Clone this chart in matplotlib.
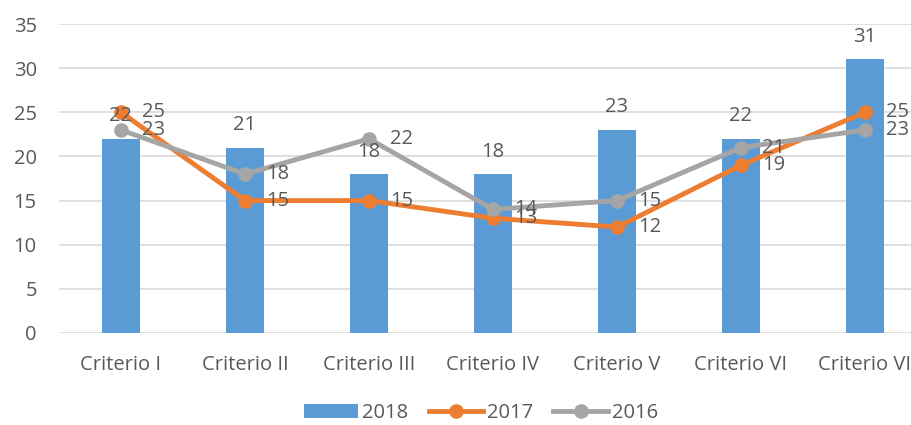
import matplotlib.pyplot as plt
import numpy as np

plt.rcParams['font.family'] = ['Open Sans', 'DejaVu Sans']

categorias = ['Criterio I', 'Criterio II', 'Criterio III', 'Criterio IV',
              'Criterio V', 'Criterio VI', 'Criterio VI']
v2018 = [22, 21, 18, 18, 23, 22, 31]
v2017 = [25, 15, 15, 13, 12, 19, 25]
v2016 = [23, 18, 22, 14, 15, 21, 23]

gris_txt = '#595959'
azul = '#5B9BD5'
naranja = '#ED7D31'
gris = '#A5A5A5'

fig = plt.figure(figsize=(9.12, 4.25), dpi=100)
# the original is cropped on the right, so the axes run past the figure edge
ax = fig.add_axes([59 / 912, 92 / 425, 868 / 912, 309 / 425])

x = np.arange(len(categorias))
b = ax.bar(x, v2018, width=0.31, color=azul, label='2018', zorder=2)
l1, = ax.plot(x, v2017, color=naranja, lw=3.5, marker='o', ms=9.5, label='2017', zorder=3)
l2, = ax.plot(x, v2016, color=gris, lw=3.5, marker='o', ms=9.5, label='2016', zorder=4)

fs = 14.5
for xi, v in zip(x, v2018):
    ax.annotate(str(v), (xi, v), xytext=(0, 9), textcoords='offset points',
                ha='center', va='bottom', fontsize=fs, color=gris_txt, zorder=5)
for serie in (v2017, v2016):
    for xi, v in zip(x, serie):
        ax.annotate(str(v), (xi, v), xytext=(15, 0), textcoords='offset points',
                    ha='left', va='center', fontsize=fs, color=gris_txt, zorder=5)

ax.set_xlim(-0.5, len(categorias) - 0.5)
ax.set_ylim(0, 35)
ax.set_yticks(range(0, 36, 5))
ax.set_xticks(x)
ax.set_xticklabels(categorias)
ax.tick_params(length=0, labelsize=fs, colors=gris_txt)
ax.tick_params(axis='x', pad=16)
ax.tick_params(axis='y', pad=16)
ax.grid(axis='y', color='#D9D9D9', lw=1.2, zorder=0)
for s in ax.spines.values():
    s.set_visible(False)

fig.legend([b, l1, l2], ['2018', '2017', '2016'], loc='center',
           bbox_to_anchor=(481 / 912, 12 / 425), ncol=3,
           frameon=False, fontsize=fs, labelcolor=gris_txt, handlelength=2.7,
           columnspacing=1.0, handletextpad=0.2)

fig.savefig('out.png', dpi=100)
